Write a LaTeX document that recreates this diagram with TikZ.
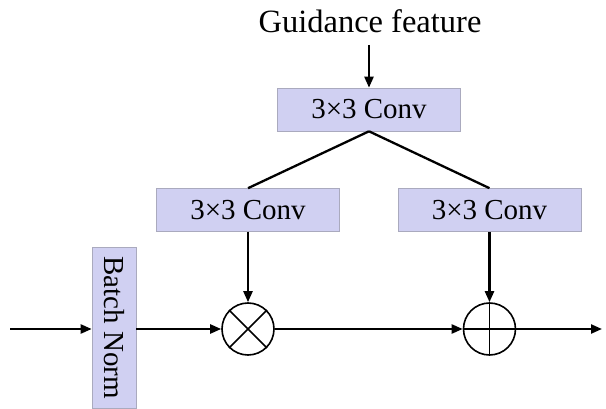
\documentclass[tikz,border=0pt]{standalone}
\usepackage{fontspec}
\setmainfont{Liberation Serif}
\usetikzlibrary{arrows.meta}
\definecolor{boxfill}{RGB}{208,208,242}
\definecolor{boxline}{RGB}{170,170,190}
\begin{document}
\begin{tikzpicture}[x=1pt,y=-1pt,
  conv/.style={draw=boxline,line width=0.6pt,fill=boxfill,minimum width=183pt,minimum height=43pt,inner sep=0pt,font=\fontsize{29}{32}\selectfont},
  op/.style={draw,circle,line width=1.6pt,minimum size=52pt,inner sep=0pt},
  arr/.style={line width=2.3pt,-{Triangle[length=11pt,width=9pt]}},
  ln/.style={line width=2.3pt}]
\useasboundingbox (0,0) rectangle (606,409);
\node[font=\fontsize{32.5}{35}\selectfont] (g) at (370,21) {Guidance feature};
\coordinate (gs) at (369,45);
\node[conv] (c0) at (369,109.5) {3×3 Conv};
\node[conv] (c1) at (248,210) {3×3 Conv};
\node[conv] (c2) at (489.5,210) {3×3 Conv};
\node[draw=boxline,line width=0.6pt,fill=boxfill,minimum width=161pt,minimum height=44pt,inner sep=0pt,rotate=-90,font=\fontsize{29}{32}\selectfont] (bn) at (114,327.5) {Batch Norm};
\node[op] (m) at (248,329) {};
\node[op] (a) at (489.5,329) {};
\draw[line width=1.6pt] (m.45) -- (m.225) (m.135) -- (m.315);
\draw[line width=1.6pt] (a.north) -- (a.south) (a.west) -- (a.east);
\coordinate (in) at (10,329);
\coordinate (out) at (602,329);
\draw[arr] (gs) -- (c0.north);
\draw[ln] (c0.south) -- (c1.north);
\draw[ln] (c0.south) -- (c2.north);
\draw[arr] (c1.south) -- (m.north);
\draw[arr] (c2.south) -- (a.north);
\draw[arr] (in) -- (in -| bn.south);
\draw[arr] (m.west -| bn.north) -- (m.west);
\draw[arr] (m.east) -- (a.west);
\draw[arr] (a.east) -- (out);
\end{tikzpicture}
\end{document}
